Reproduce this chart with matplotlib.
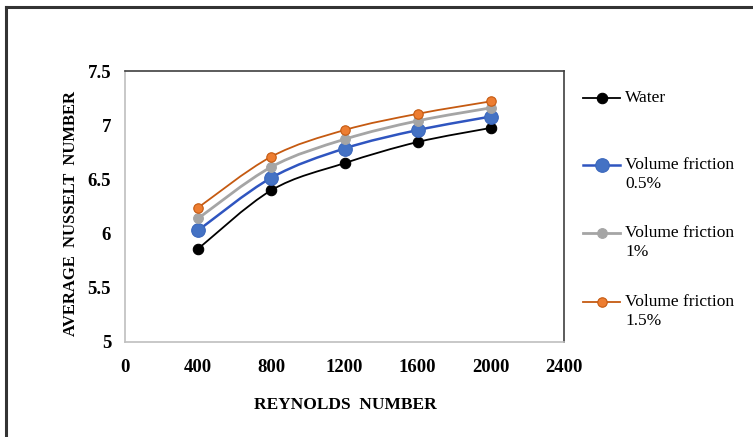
import numpy as np
import matplotlib.pyplot as plt
from matplotlib.path import Path
from matplotlib.patches import PathPatch
from matplotlib.lines import Line2D

# data
reynolds = [400, 800, 1200, 1600, 2000]
water = [5.86, 6.40, 6.65, 6.845, 6.975]
vf_05 = [6.03, 6.515, 6.785, 6.955, 7.08]
vf_1 = [6.14, 6.615, 6.87, 7.04, 7.16]
vf_15 = [6.24, 6.71, 6.955, 7.105, 7.22]

labels = ['Water', 'Volume friction\n0.5%', 'Volume friction\n1%', 'Volume friction\n1.5%']
x_ticks = [0, 400, 800, 1200, 1600, 2000, 2400]
y_ticks = [5, 5.5, 6, 6.5, 7, 7.5]
y_tick_labels = ['5', '5.5', '6', '6.5', '7', '7.5']

plt.rcParams['font.family'] = ['Liberation Serif', 'DejaVu Serif']

fig = plt.figure(figsize=(7.53, 4.37), dpi=100)
W, H = 753, 437
ax = fig.add_axes([125 / W, 1 - 342 / H, (564 - 125) / W, (342 - 71) / H])


def smooth_path(xs, ys, t=1 / 6):
    # Excel-like smoothed line: cubic bezier segments (Catmull-Rom style)
    xs = np.asarray(xs, float)
    ys = np.asarray(ys, float)
    n = len(xs)
    verts = [(xs[0], ys[0])]
    codes = [Path.MOVETO]
    for i in range(n - 1):
        p0 = (xs[max(i - 1, 0)], ys[max(i - 1, 0)])
        p1 = (xs[i], ys[i])
        p2 = (xs[i + 1], ys[i + 1])
        p3 = (xs[min(i + 2, n - 1)], ys[min(i + 2, n - 1)])
        c1 = (p1[0] + (p2[0] - p0[0]) * t, p1[1] + (p2[1] - p0[1]) * t)
        c2 = (p2[0] - (p3[0] - p1[0]) * t, p2[1] - (p3[1] - p1[1]) * t)
        verts += [c1, c2, p2]
        codes += [Path.CURVE4] * 3
    return Path(verts, codes)


# colour line, marker face, marker edge, marker size, line width
series = [
    (water, '#000000', '#000000', '#000000', 7.5, 1.3),
    (vf_05, '#2F55C0', '#4472C4', '#3A66BC', 9.8, 1.8),
    (vf_1, '#A5A5A5', '#A5A5A5', '#A5A5A5', 7.0, 2.0),
    (vf_15, '#C55A11', '#ED7D31', '#C55A11', 6.8, 1.3),
]

for vals, lc, mc, mec, ms, lw in series:
    ax.add_patch(PathPatch(smooth_path(reynolds, vals), fill=False, edgecolor=lc, lw=lw, zorder=2))
    ax.plot(reynolds, vals, ls='none', marker='o', ms=ms, mfc=mc, mec=mec, mew=0.8, zorder=3)

ax.set_xlim(0, 2400)
ax.set_ylim(5, 7.5)
ax.set_xticks(x_ticks)
ax.set_yticks(y_ticks)
ax.set_yticklabels(y_tick_labels)
ax.tick_params(axis='y', length=0, labelsize=13.5, pad=10)
ax.tick_params(axis='x', length=0, labelsize=13.5, pad=12)
for lbl in ax.get_xticklabels() + ax.get_yticklabels():
    lbl.set_fontweight('bold')

ax.spines['top'].set_color('#404040')
ax.spines['right'].set_color('#404040')
ax.spines['left'].set_color('#BFBFBF')
ax.spines['bottom'].set_color('#BFBFBF')
for s in ax.spines.values():
    s.set_linewidth(1.2)

fig.text(345 / W, 1 - 405 / H, 'REYNOLDS  NUMBER', ha='center', va='center',
         fontsize=12.5, fontweight='bold')
fig.text(71 / W, 1 - 214 / H, 'AVERAGE  NUSSELT  NUMBER', ha='center', va='center',
         rotation=90, fontsize=12, fontweight='bold')

# legend drawn by hand: handle beside the first line of each label
leg_first = [98, 165, 233, 302]
for (vals, lc, mc, mec, ms, lw), lab, yy in zip(series, labels, leg_first):
    yf = 1 - yy / H
    fig.add_artist(Line2D([583 / W, 620 / W], [yf, yf], color=lc, lw=lw))
    fig.add_artist(Line2D([602 / W], [yf], ls='none', marker='o', ms=ms,
                          mfc=mc, mec=mec, mew=0.8))
    for k, part in enumerate(lab.split('\n')):
        fig.text(625 / W, 1 - (yy + 19 * k) / H, part, ha='left', va='center', fontsize=12.5)

# outer frame of the original image (top and left edges)
fig.add_artist(Line2D([6 / W, 6 / W], [0, 1 - 7 / H], color='#333333', lw=2.2))
fig.add_artist(Line2D([6 / W, 1], [1 - 7 / H, 1 - 7 / H], color='#333333', lw=2.2))

fig.savefig('out.png', dpi=100)
